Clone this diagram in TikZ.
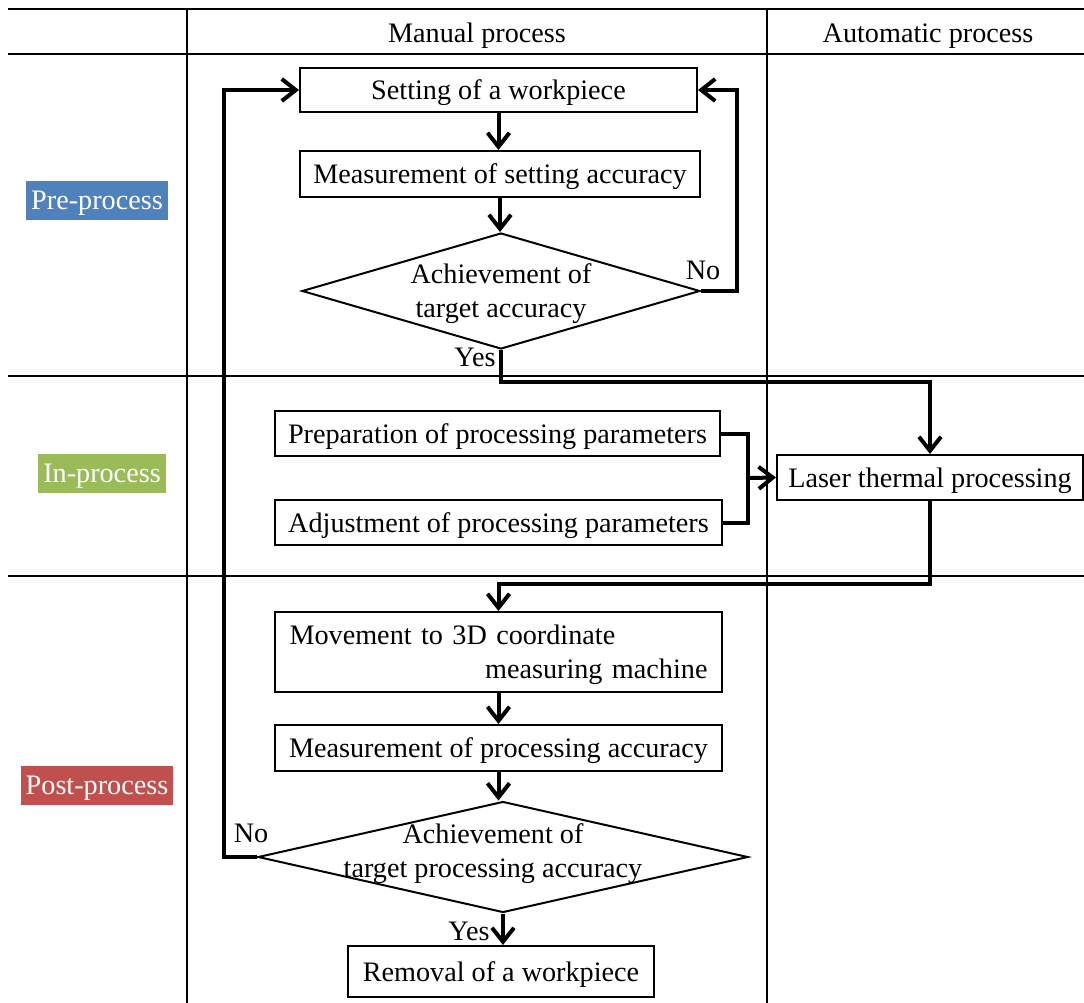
\documentclass[tikz,border=0pt]{standalone}
\usepackage{fontspec}
\setmainfont{Liberation Serif}
\usepackage{tikz}
\usetikzlibrary{arrows.meta, positioning, shapes.geometric, calc}

\definecolor{preblue}{HTML}{4F81BD}
\definecolor{ingreen}{HTML}{9BBB59}
\definecolor{postred}{HTML}{C0504D}

\tikzset{
  onetext/.style={text height=12.7pt, text depth=3.1pt},
  boxframe/.style={draw, line width=1pt, inner sep=0pt, align=center},
  flowbox/.style={boxframe, onetext},
  decision/.style={draw, diamond, line width=1pt, inner sep=0pt},
  flow/.style={line width=2pt, -{Straight Barb[length=7pt, width=11pt, line width=2pt]}},
  flowline/.style={line width=2pt},
  rowtag/.style={onetext, text=white, inner xsep=2.5pt, inner ysep=1.85pt, minimum height=19.5pt},
  gridline/.style={line width=0.7pt}
}

\begin{document}
\begin{tikzpicture}[x=0.5pt, y=-0.5pt, font=\fontsize{14.1pt}{17pt}\selectfont]
\useasboundingbox (0,0) rectangle (1084,1003);

% table
\draw[line width=1.2pt] (8,9) -- (1084,9);
\draw[gridline] (8,54) -- (1084,54);
\draw[gridline] (8,376) -- (1084,376);
\draw[gridline] (8,576) -- (1084,576);
\draw[gridline] (187,9) -- (187,1003);
\draw[gridline] (767,9) -- (767,1003);

% headers
\node[onetext] (manualhead) at (477,33) {Manual process};
\node[onetext] (autohead) at (928,33) {Automatic process};

% row tags
\node[rowtag, fill=preblue] (pretag) at (97,200) {Pre-process};
\node[rowtag, fill=ingreen] (intag) at (102,473) {In-process};
\node[rowtag, fill=postred] (posttag) at (97,785) {Post-process};

% pre-process
\node[flowbox, minimum width=198.5pt, minimum height=22pt] (setting) at (498.5,90) {Setting of a workpiece};
\node[flowbox, minimum width=200pt, minimum height=23pt] (measure1) at (500,174) {Measurement of setting accuracy};
\node[decision, minimum width=199pt, minimum height=58pt,
      label={[align=center, yshift=-1.5pt]center:Achievement of\\target accuracy}] (dec1) at (501,291) {};

% in-process
\node[flowbox, minimum width=222.5pt, minimum height=22.5pt] (prep) at (497.5,433.5) {Preparation of processing parameters};
\node[flowbox, minimum width=223.5pt, minimum height=22.5pt] (adjust) at (498.5,522.5) {Adjustment of processing parameters};
\node[flowbox, minimum width=153pt, minimum height=22.5pt] (laser) at (930,477.5) {Laser thermal processing};
\coordinate (merge) at (748,478);

% post-process
\node[boxframe, minimum width=223.5pt, minimum height=40pt, text width=209pt, align=left] (movement) at (498.5,652)
  {\rule{0pt}{12.7pt}Movement to 3D coordinate\\\hspace*{\fill}measuring machine};
\node[flowbox, minimum width=223.5pt, minimum height=23pt] (measure2) at (498.5,748) {Measurement of processing accuracy};
\node[decision, minimum width=245pt, minimum height=55.5pt,
      label={[align=center, xshift=-5pt, yshift=1.5pt]center:Achievement of\\target processing accuracy}] (dec2) at (503,857) {};
\node[flowbox, minimum width=153pt, minimum height=25.5pt] (removal) at (501,971.5) {Removal of a workpiece};

% branch labels
\node[onetext] (no1) at (703,270) {No};
\node[onetext] (yes1) at (475,357) {Yes};
\node[onetext] (no2) at (251,833) {No};
\node[onetext] (yes2) at (469,931) {Yes};

% connectors
\draw[flow] (setting.south) -- (setting.south |- measure1.north);
\draw[flow] (measure1.south) -- (measure1.south |- dec1.north);
\draw[flow] (dec1.east) -- ++(18pt,0) |- (setting.east);
\draw[flow] (dec1.south) -- ++(0,-16pt) -| (laser.north);
\draw[flowline] (prep.east) -| (merge) |- (adjust.east);
\draw[flow] (merge) -- (laser.west);
\draw[flow] (laser.south) -- ++(0,-41.5pt) -| (movement.north);
\draw[flow] (movement.south) -- (movement.south |- measure2.north);
\draw[flow] (measure2.south) -- (measure2.south |- dec2.north);
\draw[flow] (dec2.west) -- ++(-16.5pt,0) |- (setting.west);
\draw[flow] (dec2.south) -- (dec2.south |- removal.north);
\end{tikzpicture}
\end{document}
